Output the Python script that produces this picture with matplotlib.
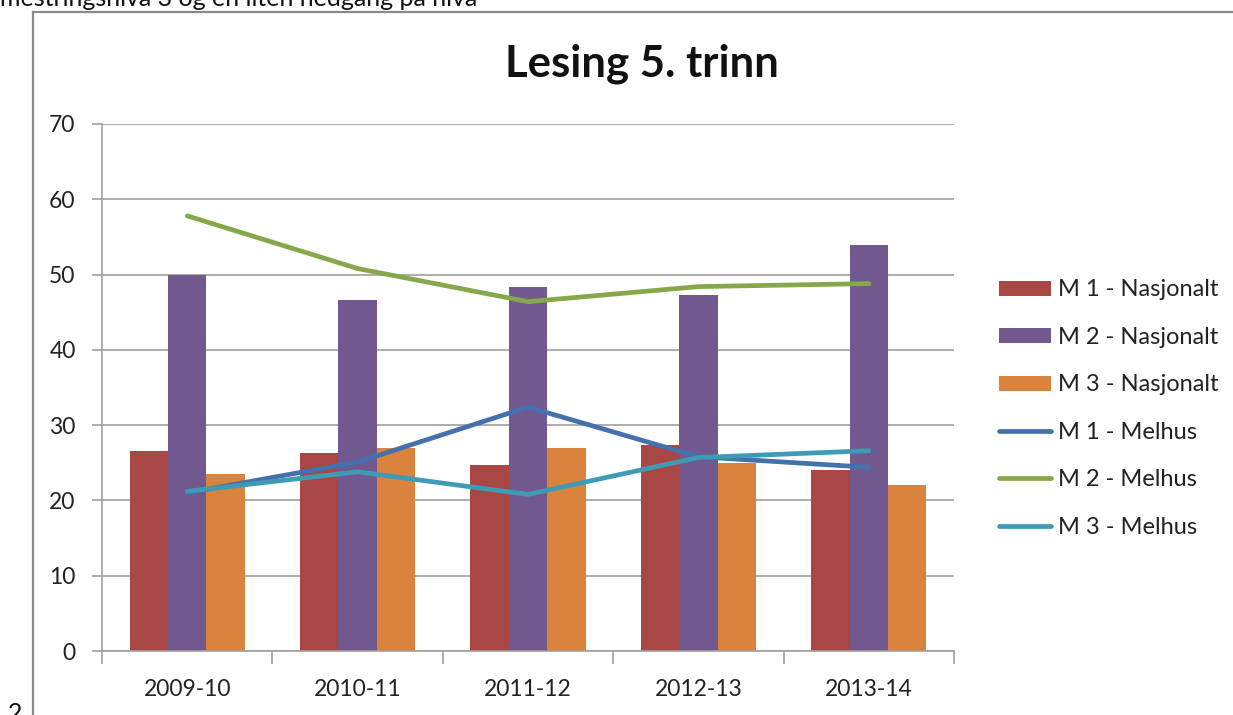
import matplotlib
matplotlib.use("Agg")
import matplotlib.pyplot as plt
import numpy as np
from matplotlib.lines import Line2D

plt.rcParams['font.family'] = ['Lato', 'DejaVu Sans']

categories = ["2009-10", "2010-11", "2011-12", "2012-13", "2013-14"]
m1_nasjonalt = [26.5, 26.3, 24.7, 27.4, 24.0]
m2_nasjonalt = [49.9, 46.6, 48.3, 47.3, 53.9]
m3_nasjonalt = [23.5, 26.9, 26.9, 25.0, 22.0]
m1_melhus = [21.0, 25.1, 32.4, 25.8, 24.4]
m2_melhus = [57.8, 50.8, 46.4, 48.4, 48.8]
m3_melhus = [21.2, 23.8, 20.8, 25.7, 26.6]

bar_series = [("M 1 - Nasjonalt", m1_nasjonalt, "#A94744"),
              ("M 2 - Nasjonalt", m2_nasjonalt, "#715990"),
              ("M 3 - Nasjonalt", m3_nasjonalt, "#DA833F")]
line_series = [("M 1 - Melhus", m1_melhus, "#4470AC"),
               ("M 2 - Melhus", m2_melhus, "#87A84A"),
               ("M 3 - Melhus", m3_melhus, "#3E9BB3")]

W, H = 1233, 715
fig = plt.figure(figsize=(W / 100, H / 100), dpi=100)
ax = fig.add_axes([102 / W, 1 - 651 / H, (954 - 102) / W, (651 - 124) / H])

x = np.arange(len(categories))
bw = 0.225
handles = []
for i, (lab, vals, col) in enumerate(bar_series):
    h = ax.bar(x + (i - 1) * bw, vals, width=bw, color=col, label=lab, zorder=2)
    handles.append(h)
for lab, vals, col in line_series:
    h, = ax.plot(x, vals, color=col, lw=3.4, label=lab, zorder=3, solid_capstyle='round')
    handles.append(h)

ax.set_xlim(-0.5, len(categories) - 0.5)
ax.set_ylim(0, 70)
ax.set_yticks(range(0, 71, 10))
ax.yaxis.grid(True, color="#A0A0A0", lw=1.2, zorder=0)
ax.set_axisbelow(True)
ax.set_xticks(x)
ax.set_xticklabels(categories)
ax.set_xticks(np.arange(-0.5, len(categories), 1), minor=True)
ax.tick_params(axis='x', which='major', length=0, pad=20, labelsize=16.5, colors='#222222')
ax.tick_params(axis='x', which='minor', length=9, width=1.2, color='#A0A0A0', direction='out')
ax.tick_params(axis='y', length=7, width=1.2, color='#A0A0A0', direction='out', pad=12,
               labelsize=16.5, labelcolor='#222222')
for s in ['top', 'right']:
    ax.spines[s].set_visible(False)
for s in ['left', 'bottom']:
    ax.spines[s].set_color('#A0A0A0')
    ax.spines[s].set_linewidth(1.2)

fig.text((505 + 778) / 2 / W, 1 - 64 / H, "Lesing 5. trinn", ha='center', va='center',
         fontsize=31.5, fontweight='bold', color='#111111')

labels = [h.get_label() for h in handles]
leg = fig.legend(handles, labels, loc='upper left', bbox_to_anchor=(990 / W, 1 - 270 / H),
                 frameon=False, fontsize=17, handlelength=2.2, handleheight=0.6,
                 labelspacing=1.12, handletextpad=0.3, borderaxespad=0)
for t in leg.get_texts():
    t.set_color('#222222')

# surrounding document frame and text
fig.add_artist(Line2D([33 / W, 33 / W], [0, 1 - 12 / H], color='#8A8A8A', lw=1.6))
fig.add_artist(Line2D([33 / W, 1], [1 - 12 / H, 1 - 12 / H], color='#8A8A8A', lw=1.6))
fig.text(0 / W, 1 - 6 / H, "mestringsnivå 3 og en liten nedgang på nivå", ha='left',
         va='baseline', fontsize=18, color='#111111')
fig.text(8 / W, -6 / H, "2", ha='left', va='baseline', fontsize=18, color='#111111')

fig.savefig("out.png", dpi=100)
